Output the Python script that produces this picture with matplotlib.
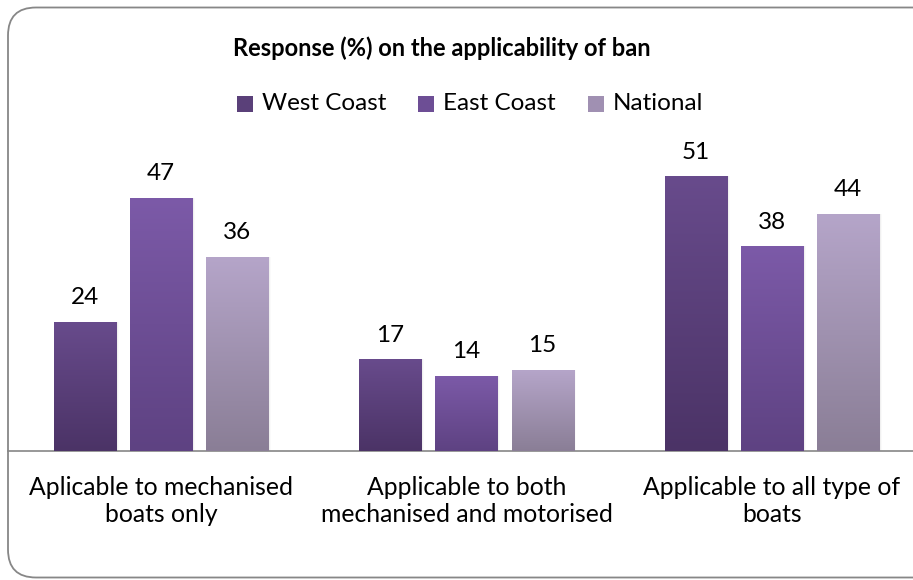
import matplotlib
matplotlib.use("Agg")
import matplotlib.pyplot as plt
import numpy as np
from matplotlib.patches import FancyBboxPatch, Rectangle
from matplotlib.colors import LinearSegmentedColormap

categories = ["Aplicable to mechanised\nboats only",
              "Applicable to both\nmechanised and motorised",
              "Applicable to all type of\nboats"]
series_names = ["West Coast", "East Coast", "National"]
west_coast = [24, 17, 51]
east_coast = [47, 14, 38]
national = [36, 15, 44]
title = "Response (%) on the applicability of ban"

# (bottom colour, top colour) of each series' vertical gradient
grad_colors = [("#4b3366", "#684b8c"),
               ("#5e4282", "#7c5aa8"),
               ("#8a7e96", "#b5a5c9")]
legend_colors = ["#5a4079", "#6d4e95", "#a090b2"]

plt.rcParams["font.family"] = ["Lato", "DejaVu Sans"]

fig = plt.figure(figsize=(9.13, 5.8), dpi=100)

# rounded chart frame (right edge runs off the canvas)
frame = FancyBboxPatch((0.08, 0.025), 9.6, 5.70,
                       boxstyle="round,pad=0,rounding_size=0.28",
                       transform=fig.dpi_scale_trans, facecolor="white",
                       edgecolor="#878787", linewidth=1.3, zorder=-5)
fig.patches.append(frame)

ax = fig.add_axes([8.25 / 913, (580 - 451) / 580, 916.5 / 913, 323 / 580])
ax.set_zorder(2)
ax.patch.set_alpha(0)
for s in ["top", "right", "left"]:
    ax.spines[s].set_visible(False)
ax.spines["bottom"].set_color("#868686")
ax.spines["bottom"].set_linewidth(1.2)
ax.set_yticks([])
ax.set_xticks([])

width = 0.203
offsets = [-0.249, 0.0, 0.249]
x = np.arange(len(categories))
data = [west_coast, east_coast, national]

for si, (vals, (c0, c1)) in enumerate(zip(data, grad_colors)):
    cmap = LinearSegmentedColormap.from_list(f"g{si}", [c0, c1])
    for xi, v in zip(x, vals):
        xc = xi + offsets[si]
        # soft shadow on the right
        for k, a in enumerate([0.07, 0.04, 0.02]):
            sh = Rectangle((xc - width / 2 + 0.003 * (k + 1), 0), width, v,
                           facecolor="black", alpha=a, edgecolor="none", zorder=1)
            ax.add_patch(sh)
        bar = ax.bar(xc, v, width=width, color=c1, edgecolor="none", zorder=2)[0]
        grad = np.linspace(0, 1, 256).reshape(-1, 1)
        im = ax.imshow(grad, cmap=cmap, origin="lower", aspect="auto",
                       extent=(xc - width / 2, xc + width / 2, 0, v), zorder=3)
        im.set_clip_path(bar)
        ax.annotate(f"{v}", (xc, v), xytext=(0, 10), textcoords="offset points",
                    ha="center", va="bottom", fontsize=17.5, color="black")

ax.set_xlim(-0.5, 2.5)
ax.set_ylim(0, 60)

for xi, lab in zip(x, categories):
    ax.annotate(lab, (xi, 0), xytext=(0, -18), textcoords="offset points",
                ha="center", va="top", fontsize=17.8, color="black",
                linespacing=1.22)

fig.text(442 / 913, 1 - 48 / 580, title, ha="center", va="center",
         fontsize=17, fontweight="bold")

# legend
leg_sq = [237, 418, 588]
for px, name, col in zip(leg_sq, series_names, legend_colors):
    fig.patches.append(Rectangle((px / 913, 1 - 112 / 580), 16 / 913, 16 / 580,
                                 transform=fig.transFigure, facecolor=col,
                                 edgecolor="none"))
    fig.text((px + 25) / 913, 1 - 104 / 580, name, ha="left", va="center",
             fontsize=17.5)

fig.savefig("out.png", dpi=100)
